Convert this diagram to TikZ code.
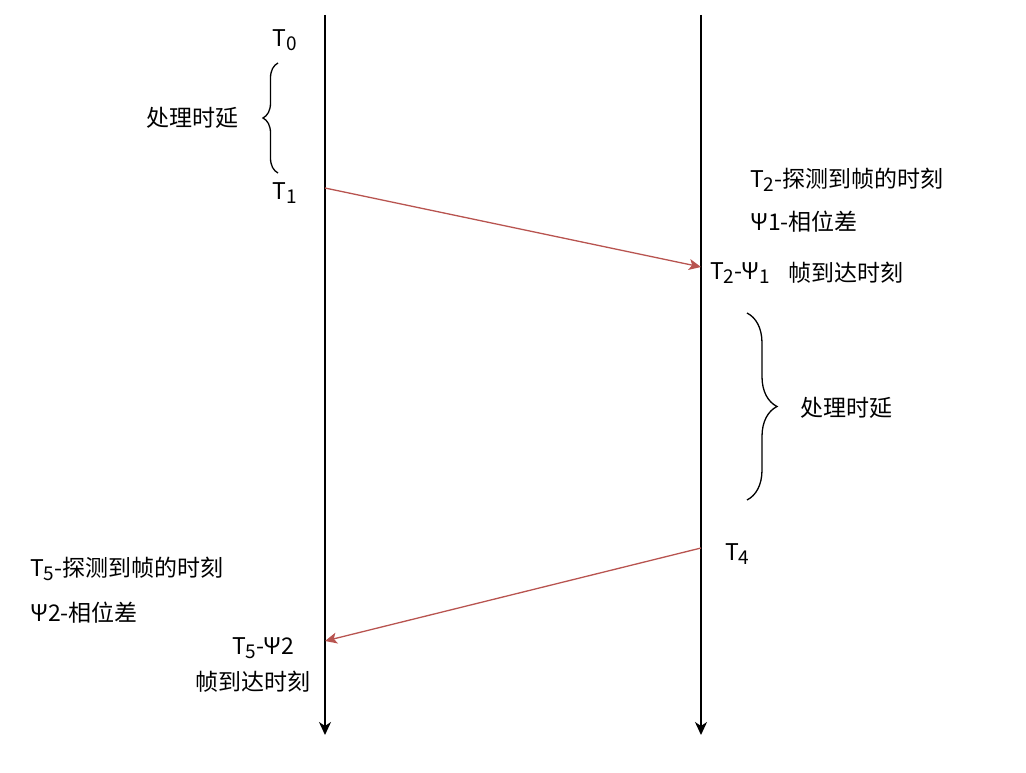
\documentclass[tikz,border=0pt]{standalone}
\usepackage{fontspec}
\setmainfont{Noto Sans CJK SC}
\usetikzlibrary{arrows.meta,decorations.pathreplacing}
\definecolor{msgred}{HTML}{B85450}
\newcommand{\tsub}[1]{\raisebox{-.35ex}{\fontsize{19}{19}\selectfont #1}}

\begin{document}
\begin{tikzpicture}
  [x=1pt, y=-1pt, font=\fontsize{23}{27}\selectfont,
   lbl/.style={inner sep=0pt},
   timeline/.style={line width=1.5pt, -{Stealth[length=13pt,width=12pt,inset=4pt]}},
   msg/.style={draw=msgred, line width=1.3pt, -{Stealth[length=12pt,width=11pt,inset=3pt]}},
   delay/.style={line width=1.3pt, decorate, decoration={brace, amplitude=#1}}]
  \useasboundingbox (0,0) rectangle (1026,773);

  % the two time axes
  \coordinate (atop) at (325, 15);
  \coordinate (abot) at (325, 735);
  \coordinate (btop) at (701, 15);
  \coordinate (bbot) at (701, 735);
  \draw[timeline] (atop) -- (abot);
  \draw[timeline] (btop) -- (bbot);

  % instants on the axes
  \coordinate (t1) at (325, 188);
  \coordinate (t2) at (701, 267);
  \coordinate (t4) at (701, 548);
  \coordinate (t5) at (325, 641);

  \node[lbl] (n0) at (285, 40) {T\tsub{0}};
  \node[lbl] (n1) at (285, 193) {T\tsub{1}};
  \node[lbl] (dl) at (192, 118) {处理时延};
  \node[lbl, anchor=west] (n2) at (750, 180) {T\tsub{2}-探测到帧的时刻};
  \node[lbl, anchor=west] (p1) at (750, 222) {Ψ1-相位差};
  \node[lbl, anchor=west] (a2) at (710, 273) {T\tsub{2}-Ψ\tsub{1}};
  \node[lbl, anchor=west] (f2) at (788, 273) {帧到达时刻};
  \node[lbl, anchor=west] (dr) at (800, 408) {处理时延};
  \node[lbl, anchor=west] (n4) at (725, 554) {T\tsub{4}};
  \node[lbl, anchor=west] (n5) at (30, 569) {T\tsub{5}-探测到帧的时刻};
  \node[lbl, anchor=west] (p2) at (30, 613) {Ψ2-相位差};
  \node[lbl] (a5) at (263, 648) {T\tsub{5}-Ψ2};
  \node[lbl] (f5) at (253, 682) {帧到达时刻};

  \draw[msg] (t1) -- (t2);
  \draw[msg] (t4) -- (t5);

  % processing delay braces
  \draw[delay=15pt] (278, 173) -- (278, 63);
  \draw[delay=30pt] (747, 313) -- (747, 500);
\end{tikzpicture}
\end{document}
